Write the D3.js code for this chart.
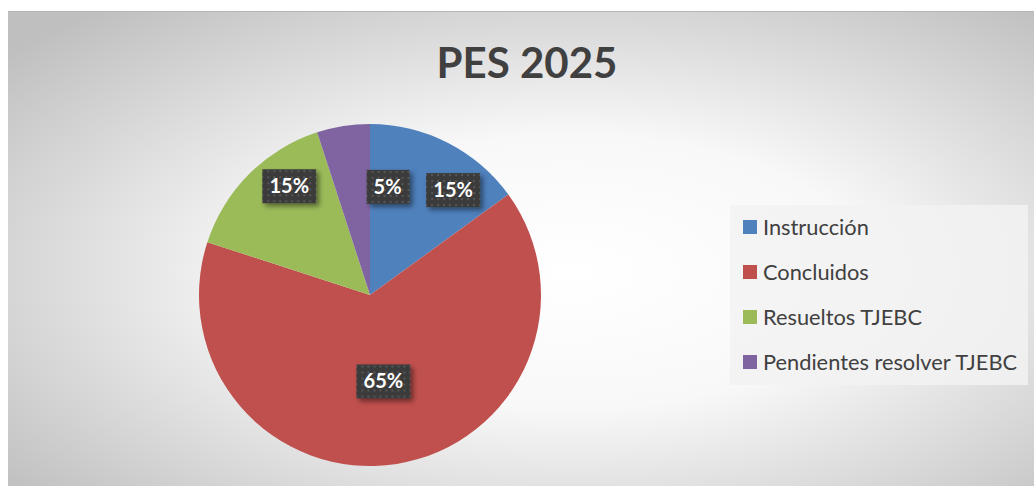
<!DOCTYPE html>
<html lang="es">
<head>
  <meta charset="UTF-8">
  <title>PES 2025</title>
  <style>
    body {
      margin: 0;
      padding: 0;
      background: #fff;
      font-family: 'Lato', 'Open Sans', sans-serif;
    }
  </style>
</head>
<body>

<script src="https://d3js.org/d3.v7.min.js"></script>

<script>
  // Chart data
  const categories = ['Instrucción', 'Concluidos', 'Resueltos TJEBC', 'Pendientes resolver TJEBC'];
  const values = [15, 65, 15, 5];
  const colors = ['#4f81bd', '#c0504d', '#9bbb59', '#8064a2'];
  const title = 'PES 2025';

  const width = 1034, height = 487;

  const svg = d3.select('body').append('svg')
    .attr('width', width)
    .attr('height', height);

  const defs = svg.append('defs');

  // background gradient (white centre, grey edges)
  const bg = defs.append('radialGradient')
    .attr('id', 'bg')
    .attr('cx', '55%').attr('cy', '55%').attr('r', '72%')
    .attr('gradientUnits', 'objectBoundingBox');
  bg.append('stop').attr('offset', '0%').attr('stop-color', '#ffffff');
  bg.append('stop').attr('offset', '40%').attr('stop-color', '#f8f8f8');
  bg.append('stop').attr('offset', '100%').attr('stop-color', '#bfbfbf');

  // dotted pattern for the data labels
  const pat = defs.append('pattern')
    .attr('id', 'dots')
    .attr('width', 6).attr('height', 6)
    .attr('patternUnits', 'userSpaceOnUse');
  pat.append('rect').attr('width', 6).attr('height', 6).attr('fill', '#3b3b3b');
  pat.append('rect').attr('x', 2).attr('y', 2).attr('width', 2).attr('height', 2).attr('fill', '#575757');

  const shadow = defs.append('filter')
    .attr('id', 'shadow')
    .attr('x', '-30%').attr('y', '-30%').attr('width', '170%').attr('height', '170%');
  shadow.append('feDropShadow')
    .attr('dx', 3).attr('dy', 3).attr('stdDeviation', 2.5)
    .attr('flood-color', '#000').attr('flood-opacity', 0.45);

  // chart area
  svg.append('rect')
    .attr('x', 8).attr('y', 11)
    .attr('width', width - 8).attr('height', height - 12)
    .attr('fill', 'url(#bg)');
  svg.append('line')
    .attr('x1', 8).attr('x2', width).attr('y1', 11.5).attr('y2', 11.5)
    .attr('stroke', '#b5b5b5');

  // title
  svg.append('text')
    .attr('x', 527).attr('y', 78)
    .attr('text-anchor', 'middle')
    .style('font-size', '42px')
    .style('font-weight', 'bold')
    .style('fill', '#404040')
    .text(title);

  // pie
  const cx = 370, cy = 295, radius = 171;
  const pie = d3.pie().sort(null).value(d => d)(values);
  const arc = d3.arc().innerRadius(0).outerRadius(radius);

  const g = svg.append('g').attr('transform', `translate(${cx},${cy})`);

  g.selectAll('path.slice')
    .data(pie)
    .enter().append('path')
    .attr('class', 'slice')
    .attr('d', arc)
    .attr('fill', (d, i) => colors[i]);

  // label placement: centroid radius and nudges (Excel "best fit")
  const labelRadius = [0.8, 0.5, 0.8, 0.8];
  const labelNudge = [[21, 17], [0, 2], [16, -12], [39, 27]];

  const labels = g.selectAll('g.label')
    .data(pie)
    .enter().append('g')
    .attr('class', 'label')
    .attr('transform', (d, i) => {
      const r = radius * labelRadius[i];
      const c = d3.arc().innerRadius(r).outerRadius(r).centroid(d);
      return `translate(${c[0] + labelNudge[i][0]},${c[1] + labelNudge[i][1]})`;
    });

  labels.append('rect')
    .attr('x', d => d.data >= 10 ? -27 : -21)
    .attr('y', -17)
    .attr('width', d => d.data >= 10 ? 54 : 43)
    .attr('height', 34)
    .attr('fill', 'url(#dots)')
    .attr('filter', 'url(#shadow)');

  labels.append('text')
    .attr('text-anchor', 'middle')
    .attr('dy', 7)
    .style('font-size', '20px')
    .style('font-weight', 'bold')
    .style('fill', '#fff')
    .text(d => d.data + '%');

  // legend
  const legend = svg.append('g').attr('transform', 'translate(730,205)');
  legend.append('rect')
    .attr('width', 298).attr('height', 180)
    .attr('fill', '#f2f2f2')
    .attr('fill-opacity', 0.85);

  const items = legend.selectAll('g.item')
    .data(categories)
    .enter().append('g')
    .attr('class', 'item')
    .attr('transform', (d, i) => `translate(13,${22 + i * 45})`);

  items.append('rect')
    .attr('x', 0).attr('y', -7)
    .attr('width', 14).attr('height', 14)
    .attr('fill', (d, i) => colors[i]);

  items.append('text')
    .attr('x', 20).attr('dy', 7.5)
    .style('font-size', '21.8px')
    .style('fill', '#404040')
    .text(d => d);
</script>

</body>
</html>
